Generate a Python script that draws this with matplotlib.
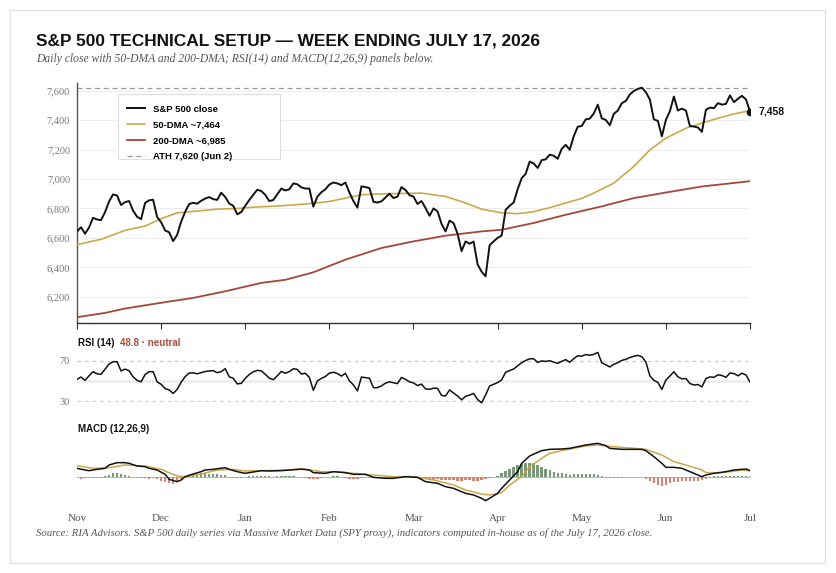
## S&P 500 technical setup chart: price + MAs, RSI(14), MACD(12,26,9)

import numpy as np
import matplotlib
matplotlib.use("Agg")
import matplotlib.pyplot as plt
from matplotlib.patches import Rectangle

## ---- data ----
month_labels = ["Nov", "Dec", "Jan", "Feb", "Mar", "Apr", "May", "Jun", "Jul"]
month_pos = [0, 21, 42, 63, 84, 105, 126, 147, 168]   # trading-day index of each month tick

close = [
    6644, 6672, 6628, 6670, 6736, 6725, 6720, 6775, 6847, 6895,
    6888, 6823, 6843, 6850, 6785, 6743, 6727, 6837, 6855, 6859,
    6742, 6706, 6650, 6638, 6578, 6620, 6710, 6777, 6830, 6838,
    6832, 6852, 6867, 6877, 6863, 6858, 6907, 6878, 6833, 6818,
    6760, 6775, 6818, 6857, 6893, 6927, 6918, 6892, 6850, 6857,
    6896, 6935, 6922, 6930, 6970, 6964, 6943, 6935, 6935, 6812,
    6880, 6910, 6930, 6962, 6976, 6970, 6958, 6976, 6908, 6850,
    6805, 6950, 6945, 6938, 6845, 6840, 6848, 6874, 6900, 6870,
    6880, 6945, 6925, 6890, 6880, 6830, 6850, 6803, 6750, 6800,
    6780, 6695, 6644, 6717, 6700, 6628, 6510, 6576, 6560, 6575,
    6420, 6370, 6339, 6550, 6576, 6600, 6615, 6790, 6818, 6840,
    6930, 7005, 7035, 7118, 7105, 7075, 7128, 7133, 7165, 7158,
    7137, 7205, 7232, 7198, 7290, 7355, 7360, 7405, 7410, 7445,
    7505, 7412, 7401, 7365, 7442, 7465, 7515, 7530, 7574, 7598,
    7612, 7620, 7590, 7540, 7405, 7395, 7290, 7401, 7460, 7560,
    7465, 7478, 7465, 7360, 7356, 7350, 7320, 7470, 7485, 7481,
    7515, 7505, 7510, 7568, 7522, 7545, 7565, 7540, 7458,
]

dma50_day = [0, 6, 12, 17, 21, 25, 30, 35, 40, 45, 51, 57, 63, 71, 78, 86, 92, 97,
             101, 106, 110, 114, 118, 122, 126, 129, 134, 139, 143, 147, 152, 156,
             160, 164, 168]
dma50 = [6554, 6590, 6651, 6680, 6730, 6770, 6782, 6795, 6800, 6810, 6818, 6830,
         6847, 6893, 6900, 6904, 6881, 6837, 6795, 6770, 6764, 6778, 6805, 6837,
         6868, 6904, 6972, 7085, 7198, 7277, 7345, 7379, 7413, 7442, 7464]

dma200_day = [0, 7, 12, 21, 29, 37, 46, 52, 59, 67, 76, 84, 92, 101, 106, 114,
              122, 131, 139, 147, 156, 168]
dma200 = [6061, 6090, 6120, 6159, 6192, 6237, 6294, 6315, 6366, 6452, 6531, 6576,
          6615, 6644, 6655, 6701, 6757, 6814, 6870, 6908, 6949, 6985]

ath = 7620

rsi = [
    51.5, 53.8, 50.5, 55.0, 59.1, 57.0, 56.5, 61.5, 66.7, 69.0,
    69.0, 59.8, 61.7, 60.0, 54.0, 50.5, 49.0, 56.3, 59.1, 59.1,
    49.0, 46.6, 42.4, 41.0, 37.5, 41.5, 48.7, 54.2, 57.8, 58.0,
    57.0, 58.2, 59.3, 59.8, 60.1, 58.1, 59.2, 62.1, 54.0, 52.6,
    47.0, 47.5, 52.5, 56.3, 59.0, 60.4, 60.0, 56.5, 52.7, 51.2,
    55.0, 59.4, 57.5, 59.2, 62.0, 61.4, 56.8, 57.5, 53.5, 40.5,
    49.9, 52.5, 54.3, 57.7, 58.5, 57.3, 54.7, 57.5, 50.0, 46.0,
    40.0, 53.8, 53.2, 52.6, 43.2, 43.3, 45.0, 47.7, 49.0, 48.2,
    47.3, 53.4, 51.5, 49.0, 48.0, 45.3, 46.8, 42.0, 41.6, 42.7,
    42.6, 35.5, 35.0, 41.0, 38.0, 35.0, 31.2, 34.6, 35.9, 37.5,
    31.5, 28.2, 36.0, 44.9, 46.6, 48.3, 50.9, 58.6, 60.2, 61.8,
    64.9, 68.0, 70.2, 71.9, 71.9, 68.3, 69.8, 69.3, 70.0, 68.6,
    67.4, 69.4, 71.1, 68.5, 72.0, 74.9, 74.5, 76.1, 75.4, 76.3,
    78.2, 67.9, 66.0, 63.8, 66.4, 68.0, 70.3, 71.4, 73.2, 74.4,
    75.3, 74.0, 68.8, 55.0, 50.6, 48.5, 41.5, 50.8, 54.8, 59.1,
    54.0, 52.0, 52.3, 47.4, 45.9, 46.4, 44.0, 52.3, 53.9, 53.5,
    56.0, 55.3, 53.5, 57.8, 57.2, 55.0, 57.6, 55.8, 48.8,
]
rsi_last = 48.8

macd_day = [0, 2, 3, 5, 7, 8, 10, 12, 13, 15, 17, 18, 20, 22, 23, 25, 26, 27, 29,
            31, 32, 34, 37, 38, 40, 42, 43, 46, 48, 51, 53, 56, 58, 59, 62, 64, 67,
            69, 72, 74, 77, 79, 82, 85, 87, 90, 92, 94, 96, 97, 99, 101, 102, 103,
            105, 106, 108, 110, 111, 113, 115, 116, 118, 121, 123, 125, 127, 130,
            132, 133, 136, 138, 141, 142, 144, 146, 147, 149, 151, 152, 154, 156,
            157, 159, 161, 162, 164, 166, 167, 168]
macd = [25, 20, 18, 22, 25, 35, 42, 42, 40, 32, 30, 25, 20, 7, -8, -15, -10, 0, 8,
        15, 20, 22, 27, 22, 15, 10, 12, 18, 17, 18, 20, 23, 20, 12, 10, 15, 12,
        7, 7, -2, -5, -5, 0, -2, -15, -20, -30, -35, -45, -50, -55, -65, -72, -65,
        -50, -35, -10, 15, 40, 62, 73, 78, 82, 83, 85, 90, 95, 100,
        93, 85, 82, 82, 82, 78, 60, 40, 28, 28, 25, 20, 10, 0,
        5, 10, 13, 15, 20, 22, 23, 18]

signal_day = [0, 4, 8, 12, 17, 21, 25, 27, 31, 35, 39, 42, 47, 52, 57, 61, 65, 69,
              74, 79, 84, 89, 94, 97, 101, 103, 106, 108, 111, 113, 116, 118, 121,
              124, 127, 130, 132, 136, 139, 142, 146, 149, 152, 156, 157, 160, 163,
              166, 168]
signal = [33, 25, 27, 35, 32, 22, 2, 0, 8, 20, 22, 17, 18, 20, 22, 15, 15, 10,
          5, 0, 0, -10, -25, -40, -52, -55, -48, -25, 0, 30, 55, 70, 78,
          85, 92, 95, 92, 88, 85, 82, 65, 45, 35, 20, 12, 12, 15,
          20, 18]

hist = [
    -5, -6, -5, -5, -4, -4, -3, 3, 6, 10,
    12, 9, 5, 1, -1, -4, -5, -5, -6, -5,
    -8, -12, -16, -20, -22, -17, -8, 2, 5, 7,
    9, 10, 10, 9, 8, 7, 6, 4, -2, -4,
    -5, -4, -2, 1, 2, 3, 3, 2, 1, 0,
    1, 2, 2, 1, 1, 0, -1, -3, -6, -7,
    -6, -4, -1, 0, 1, 1, 0, -3, -6, -8,
    -7, -4, -2, -2, -3, -4, -4, -4, -3, -3,
    -2, -1, 0, 0, -2, -5, -7, -8, -9, -10,
    -8, -9, -10, -10, -11, -12, -12, -11, -11, -12,
    -12, -10, -8, -4, -2, 3, 10, 18, 24, 30,
    34, 37, 42, 42, 40, 36, 30, 24, 19, 15,
    12, 10, 7, 6, 7, 8, 8, 8, 8, 7,
    6, 3, -3, -3, -4, -3, -3, -2, -1, 0,
    0, -1, -8, -14, -20, -24, -27, -25, -20, -17,
    -15, -13, -13, -13, -14, -12, -10, -8, -4, 1,
    2, 2, 3, 3, 2, 3, 2, 2, 1,
]

days = np.arange(len(close))

## ---- colours ----
C_CLOSE = "#111111"
C_50 = "#c9a94a"
C_200 = "#a5463a"
C_GREEN = "#789878"
C_RED = "#d8836f"
C_GREY = "#777777"

W, H = 836, 573


def fx(px):
    return px / W


def fy(py):
    return 1 - py / H


fig = plt.figure(figsize=(W / 100, H / 100), dpi=100)
fig.patch.set_facecolor("white")

# light card border
fig.patches.append(Rectangle((fx(10), fy(563)), fx(825) - fx(10), fy(10) - fy(563),
                             transform=fig.transFigure, fill=False,
                             edgecolor="#e2e2e2", linewidth=1.0))

serif = ["Liberation Serif", "DejaVu Serif"]
sans = ["Liberation Sans", "DejaVu Sans"]

fig.text(fx(36), fy(45), "S&P 500 TECHNICAL SETUP \u2014 WEEK ENDING JULY 17, 2026",
         family=sans, weight="bold", fontsize=12.4, color="#111111", va="baseline")
fig.text(fx(36), fy(62), "Daily close with 50-DMA and 200-DMA; RSI(14) and MACD(12,26,9) panels below.",
         family=serif, style="italic", fontsize=8.4, color="#555555", va="baseline")
fig.text(fx(36), fy(536), "Source: RIA Advisors. S&P 500 daily series via Massive Market Data (SPY proxy), "
         "indicators computed in-house as of the July 17, 2026 close.",
         family=serif, style="italic", fontsize=7.75, color="#555555", va="baseline")

L, R = fx(77), fx(750)

############# price panel #############
ax = fig.add_axes([L, fy(322.5), R - L, fy(83) - fy(322.5)])
ax.plot(days, close, color=C_CLOSE, lw=1.4, zorder=4, label="S&P 500 close")
ax.plot(dma50_day, dma50, color=C_50, lw=1.2, zorder=3, label="50-DMA ~7,464")
ax.plot(dma200_day, dma200, color=C_200, lw=1.3, zorder=3, label="200-DMA ~6,985")
ax.axhline(ath, color="#999999", lw=0.9, ls=(0, (4, 3)), zorder=2, label="ATH 7,620 (Jun 2)")
ax.plot(days[-1], close[-1], "o", color=C_CLOSE, ms=4.5, zorder=5)
ax.annotate(f"{close[-1]:,}", (days[-1], close[-1]), xytext=(6, 0), textcoords="offset points",
            va="center", ha="left", fontsize=7.5, weight="bold", family=sans,
            color="#111111", annotation_clip=False)

ax.set_xlim(0, 168)
ax.set_ylim(6025, 7652)
ax.set_yticks(np.arange(6200, 7601, 200))
ax.set_yticklabels([f"{v:,}" for v in range(6200, 7601, 200)])
ax.set_xticks(month_pos)
ax.set_xticklabels([])
ax.tick_params(axis="x", direction="out", length=4, width=0.8, color="#333333")
ax.tick_params(axis="y", length=0, pad=5, labelsize=7.5, labelcolor=C_GREY)
for lab in ax.get_yticklabels():
    lab.set_family(serif)
ax.grid(axis="y", color="#ededed", lw=0.8)
ax.set_axisbelow(True)
for s in ["top", "right"]:
    ax.spines[s].set_visible(False)
ax.spines["left"].set_color("#555555")
ax.spines["bottom"].set_color("#333333")
ax.spines["left"].set_linewidth(1.0)
ax.spines["bottom"].set_linewidth(1.0)

# legend box drawn separately so the rows sit where they do in the reference
ax.add_patch(Rectangle((0.0609, 0.6827), 0.2407, 0.2713, transform=ax.transAxes,
                       facecolor="white", edgecolor="#dddddd", lw=0.8, zorder=6))
leg = ax.legend(loc="upper left", bbox_to_anchor=(0.0743, 0.91), frameon=False,
                prop={"family": sans, "weight": "bold", "size": 6.8},
                handlelength=1.95, labelspacing=0.72, borderpad=0,
                handletextpad=0.75, borderaxespad=0)
leg.set_zorder(7)

############# RSI panel #############
ax2 = fig.add_axes([L, fy(412), R - L, fy(333) - fy(412)])
ax2.axhline(70, color="#dcc0c0", lw=0.9, ls=(0, (3, 3)))
ax2.axhline(30, color="#d8d0d0", lw=0.9, ls=(0, (3, 3)))
ax2.axhline(50, color="#ececec", lw=1.8)
ax2.plot(days, rsi, color=C_CLOSE, lw=1.1)
ax2.set_xlim(0, 168)
ax2.set_ylim(19.1, 97.5)
ax2.set_yticks([30, 70])
ax2.set_xticks([])
ax2.tick_params(axis="y", length=0, pad=5, labelsize=7.5, labelcolor=C_GREY)
for lab in ax2.get_yticklabels():
    lab.set_family(serif)
for s in ax2.spines.values():
    s.set_visible(False)
fig.text(fx(78), fy(343), "RSI (14)", family=sans, weight="bold", fontsize=7,
         color="#111111", va="center")
fig.text(fx(120), fy(343), f"{rsi_last} \u00b7 neutral", family=sans, weight="bold",
         fontsize=7, color="#a5503c", va="center")

############# MACD panel #############
ax3 = fig.add_axes([L, fy(508), R - L, fy(420) - fy(508)])
hist_col = [C_GREEN if h >= 0 else C_RED for h in hist]
ax3.bar(days, hist, width=0.6, color=hist_col, zorder=2)
ax3.axhline(0, color="#aaaaaa", lw=0.6, zorder=1)
ax3.plot(signal_day, signal, color=C_50, lw=1.1, zorder=3)
ax3.plot(macd_day, macd, color=C_CLOSE, lw=1.1, zorder=4)
ax3.set_xlim(0, 168)
ax3.set_ylim(-94, 170)
ax3.set_yticks([])
ax3.set_xticks(month_pos)
ax3.set_xticklabels(month_labels)
ax3.tick_params(axis="x", length=0, pad=4, labelsize=8, labelcolor="#555555")
for lab in ax3.get_xticklabels():
    lab.set_family(serif)
for s in ax3.spines.values():
    s.set_visible(False)
fig.text(fx(78), fy(429), "MACD (12,26,9)", family=sans, weight="bold", fontsize=7,
         color="#111111", va="center")

fig.savefig("out.png", dpi=100, facecolor="white")
